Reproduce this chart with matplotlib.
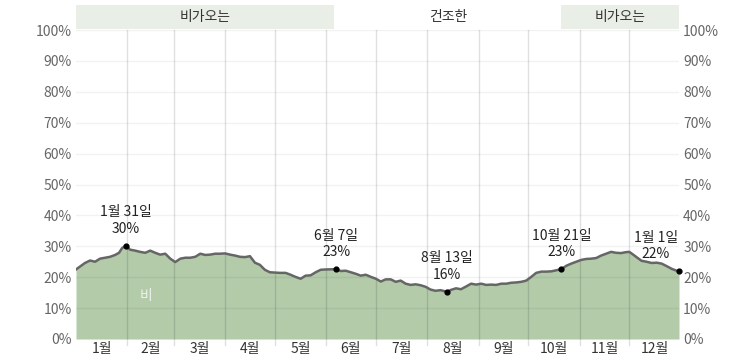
import matplotlib
matplotlib.use("Agg")
import matplotlib.pyplot as plt
import matplotlib.transforms as mtransforms

plt.rcParams['font.family'] = ['Noto Sans CJK KR', 'DejaVu Sans']

# ---- data ----
months = ['1월', '2월', '3월', '4월', '5월', '6월', '7월', '8월', '9월', '10월', '11월', '12월']
month_days = [31, 28, 31, 30, 31, 30, 31, 31, 30, 31, 30, 31]

days = [0, 5.4, 8.5, 11.5, 14.5, 17.6, 20.6, 23.6, 26, 27.8, 30, 32.7, 35.7, 38.7, 41.8,
        44.8, 47.8, 50.8, 53.9, 56.9, 59.9, 63, 66, 69, 72, 75, 78, 81, 84, 87, 90, 93,
        96, 99, 102, 105, 108, 111, 114, 117, 120, 123, 126.5, 129.5, 132.5, 135.6,
        138.6, 141.6, 144.7, 147.7, 150.7, 157, 159.8, 162.8, 165.9, 168.9, 171.9,
        174.9, 178, 181, 184, 187, 190, 193, 196, 199, 202, 205, 208, 211, 214, 217,
        220, 224, 226.4, 229.4, 232.4, 235.5, 238.5, 241.5, 244.6, 247.6, 250.6, 253.6,
        256.7, 259.7, 262.7, 265.7, 268.8, 271.8, 274.8, 277.8, 280.9, 283.9, 287, 293,
        296, 299, 302, 305, 308, 311, 314, 317, 320, 323, 326, 329, 332, 334, 336.6,
        339.6, 341.4, 344.4, 347.5, 350.5, 353.5, 356.5, 359.6, 362.6, 364]
rain_pct = [22.5, 24.6, 25.4, 25.0, 26.0, 26.3, 26.6, 27.2, 27.9, 29.4, 30.2, 28.9, 28.6,
            28.2, 27.9, 28.6, 27.9, 27.3, 27.6, 26.0, 24.9, 26.0, 26.3, 26.3, 26.6, 27.6,
            27.2, 27.3, 27.6, 27.6, 27.7, 27.3, 27.0, 26.6, 26.5, 26.8, 24.7, 24.0, 22.4,
            21.6, 21.5, 21.4, 21.4, 20.8, 20.1, 19.5, 20.5, 20.6, 21.6, 22.4, 22.5, 22.6,
            22.0, 22.1, 21.6, 21.1, 20.5, 20.8, 20.1, 19.5, 18.6, 19.3, 19.3, 18.5, 18.9,
            17.9, 17.5, 17.7, 17.4, 16.9, 16.0, 15.6, 15.8, 15.3, 15.9, 16.4, 16.1, 17.0,
            17.9, 17.6, 17.9, 17.5, 17.6, 17.5, 17.9, 17.9, 18.2, 18.3, 18.5, 18.9, 20.1,
            21.4, 21.8, 21.8, 21.9, 22.6, 23.7, 24.4, 25.0, 25.6, 25.9, 26.0, 26.2, 27.0,
            27.6, 28.2, 27.9, 27.8, 28.1, 28.2, 27.2, 26.0, 25.3, 25.0, 24.6, 24.7, 24.4,
            23.6, 22.7, 22.1, 22.0]

# annotated points: (day, value, label)
ann_days = [30, 157, 224, 293, 364]
ann_vals = [30.2, 22.6, 15.3, 22.6, 22.0]
ann_labels = ['1월 31일\n30%', '6월 7일\n23%', '8월 13일\n16%', '10월 21일\n23%', '1월 1일\n22%']

# seasons
season_starts = [0, 156, 293]
season_ends = [156, 293, 364]
season_labels = ['비가오는', '건조한', '비가오는']
season_wet = [True, False, True]

# ---- figure ----
fig = plt.figure(figsize=(7.53, 3.62), dpi=100)
ax = fig.add_axes([76 / 753, 1 - 339 / 362, (679 - 76) / 753, (339 - 30) / 362])

ax.fill_between(days, 0, rain_pct, color='#b3cba9', lw=0, zorder=1)
ax.plot(days, rain_pct, color='#666666', lw=1.8, zorder=3, solid_joinstyle='round')

ax.set_xlim(0, 364)
ax.set_ylim(0, 100)

# grid
month_starts = [sum(month_days[:i]) for i in range(12)]
for y in range(10, 101, 10):
    ax.axhline(y, color='#000000', alpha=0.05, lw=1, zorder=2)
for ms in month_starts[1:]:
    ax.axvline(ms, ymin=-0.02, ymax=1, color='#000000', alpha=0.12, lw=1, zorder=2, clip_on=False)

for s in ax.spines.values():
    s.set_visible(False)

# y ticks both sides
yt = list(range(0, 101, 10))
ax.set_yticks(yt)
ax.set_yticklabels([f'{v}%' for v in yt])
ax.tick_params(axis='y', length=0, labelsize=10, labelcolor='#666666', pad=4,
               left=True, right=True, labelleft=True, labelright=True)
ax.tick_params(axis='y', which='major', pad=3)

# month labels
mids = [month_starts[i] + month_days[i] / 2 for i in range(12)]
ax.set_xticks(mids)
ax.set_xticklabels(months)
ax.tick_params(axis='x', length=0, labelsize=10, labelcolor='#333333', pad=2)

# points + annotations
ax.scatter(ann_days, ann_vals, s=12, color='black', zorder=5, clip_on=False)
for d, v, lab in zip(ann_days, ann_vals, ann_labels):
    xoff = 0
    if d > 350:
        xoff = -14
    ax.annotate(lab, (d + xoff, v), xytext=(0, 7), textcoords='offset points',
                ha='center', va='bottom', fontsize=10, color='#222222',
                linespacing=1.25, zorder=6)

# series label
ax.text(42, 14, '비', color='#eef3ec', fontsize=10, ha='center', va='center', zorder=4)

# season bands
trans = mtransforms.blended_transform_factory(ax.transData, ax.transAxes)
for s, e, lab, wet in zip(season_starts, season_ends, season_labels, season_wet):
    if wet:
        ax.add_patch(plt.Rectangle((s, 1 + 1 / 309), e - s, 24 / 309, transform=trans,
                                   color='#e9efe6', lw=0, clip_on=False, zorder=1))
    ax.text((s + e) / 2, 1 + 13 / 309, lab, transform=trans, ha='center', va='center',
            fontsize=10, color='#333333')

fig.savefig('out.png', dpi=100)
